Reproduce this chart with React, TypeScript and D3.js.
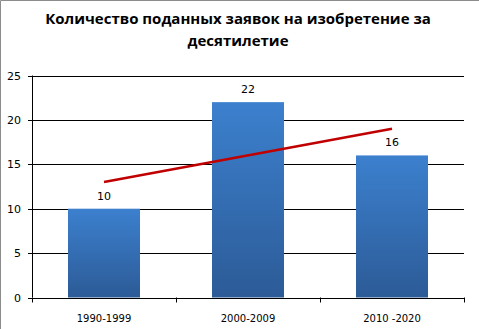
import React from "react";
import * as d3 from "d3";

const categories = ["1990-1999", "2000-2009", "2010 -2020"];
const values = [10, 22, 16];
const yTicks = [0, 5, 10, 15, 20, 25];
const titleLines = ["Количество поданных заявок на изобретение за", "десятилетие"];

export default function App() {
  const W = 479, H = 329;
  const left = 32, right = 464, top = 75.5, bottom = 297.5;
  const x = d3.scaleBand<string>().domain(categories).range([left, right]).paddingInner(0.5).paddingOuter(0.25);
  const y = d3.scaleLinear().domain([0, 25]).range([bottom, top]);

  // linear trend (least squares)
  const n = values.length;
  const xs = values.map((_, i) => i + 1);
  const mx = d3.mean(xs)!, my = d3.mean(values)!;
  const slope = d3.sum(xs.map((xi, i) => (xi - mx) * (values[i] - my))) / d3.sum(xs.map((xi) => (xi - mx) ** 2));
  const icpt = my - slope * mx;
  const trendPts: [number, number][] = categories.map((c, i) => [x(c)! + x.bandwidth() / 2, y(icpt + slope * (i + 1))]);
  const trendLine = d3.line()([trendPts[0], trendPts[n - 1]]);

  const catEdges = [left, ...categories.map((c) => x(c)! + x.bandwidth() / 2 + x.step() / 2)];

  return (
    <svg width={W} height={H} style={{ position: "absolute", left: 0, top: 0, background: "#fff" }}>
      <defs>
        <linearGradient id="barGrad" x1="0" y1="0" x2="0" y2="1">
          <stop offset="0%" stopColor="#3C80CE" />
          <stop offset="100%" stopColor="#2C5B97" />
        </linearGradient>
      </defs>
      <rect x={0} y={0} width={W} height={H} fill="#fff" />
      <path d={`M0.5,${H}V0.5H${W}`} fill="none" stroke="#8c8c8c" />
      {titleLines.map((t, i) => (
        <text key={i} x={238} y={24 + i * 22} textAnchor="middle" fontFamily="'Open Sans', 'DejaVu Sans', sans-serif"
          fontWeight="bold" fontSize={15} fill="#000">{t}</text>
      ))}
      {yTicks.map((t) => (
        <g key={t}>
          <line x1={left - 4} x2={right} y1={Math.round(y(t)) + 0.5} y2={Math.round(y(t)) + 0.5} stroke="#000" strokeWidth={1} />
          <text x={21} y={y(t) + 4} textAnchor="end" fontFamily="'DejaVu Sans', sans-serif" fontSize={11} fill="#000">{t}</text>
        </g>
      ))}
      <line x1={left + 0.5} x2={left + 0.5} y1={top} y2={bottom} stroke="#000" />
      {catEdges.map((e, i) => (
        <line key={i} x1={Math.round(e) + 0.5} x2={Math.round(e) + 0.5} y1={bottom} y2={bottom + 5} stroke="#000" />
      ))}
      {categories.map((c, i) => (
        <g key={c}>
          <rect x={x(c)} y={y(values[i])} width={x.bandwidth()} height={bottom - y(values[i])} fill="url(#barGrad)" />
          <text x={x(c)! + x.bandwidth() / 2} y={y(values[i]) - 9} textAnchor="middle" fontFamily="'DejaVu Sans', sans-serif"
            fontSize={11} fill="#000">{values[i]}</text>
          <text x={x(c)! + x.bandwidth() / 2} y={322} textAnchor="middle" fontFamily="'DejaVu Sans', sans-serif"
            fontSize={10} fill="#000">{c}</text>
        </g>
      ))}
      <path d={trendLine!} stroke="#C00000" strokeWidth={2.5} fill="none" />
    </svg>
  );
}
